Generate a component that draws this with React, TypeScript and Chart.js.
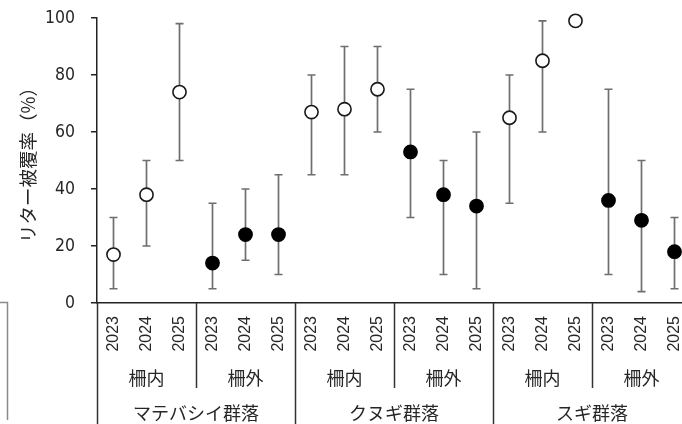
import React, { useEffect, useRef } from 'react';
import { Chart, registerables } from 'chart.js';

Chart.register(...registerables);

const years = ['2023', '2024', '2025'];
const fenceLabels = ['柵内', '柵外'];
const communityLabels = ['マテバシイ群落', 'クヌギ群落', 'スギ群落'];
const meanValues = [17, 38, 74, 14, 24, 24, 67, 68, 75, 53, 38, 34, 65, 85, 99, 36, 29, 18];
const upperValues: (number | null)[] = [30, 50, 98, 35, 40, 45, 80, 90, 90, 75, 50, 60, 80, 99, null, 75, 50, 30];
const lowerValues: (number | null)[] = [5, 20, 50, 5, 15, 10, 45, 45, 60, 30, 10, 5, 35, 60, null, 10, 4, 5];
const yTicks = [0, 20, 40, 60, 80, 100];
const yTitle = 'リター被覆率（%）';

const TEXT = '#262626';
const JP_FONT = "'Noto Sans CJK JP', sans-serif";

const labels = communityLabels.flatMap(() => fenceLabels.flatMap(() => years));
const fenceOf = (i: number) => Math.floor(i / years.length) % fenceLabels.length;
const insideData = meanValues.map((v, i) => (fenceOf(i) === 0 ? v : null));
const outsideData = meanValues.map((v, i) => (fenceOf(i) === 1 ? v : null));

const kerningPlugin = {
  id: 'noKerning',
  beforeDraw(chart: any) {
    try {
      chart.ctx.fontKerning = 'none';
    } catch (e) {
      /* ignore */
    }
  },
};

const errorBarPlugin = {
  id: 'errorBars',
  beforeDatasetsDraw(chart: any) {
    const { ctx, scales } = chart;
    const x = scales.x;
    const y = scales.y;
    ctx.save();
    ctx.strokeStyle = '#6e6e6e';
    ctx.lineWidth = 1.7;
    meanValues.forEach((_, i) => {
      const hi = upperValues[i];
      const lo = lowerValues[i];
      if (hi == null || lo == null) return;
      const px = x.getPixelForValue(i);
      const yh = y.getPixelForValue(hi);
      const yl = y.getPixelForValue(lo);
      ctx.beginPath();
      ctx.moveTo(px, yh);
      ctx.lineTo(px, yl);
      ctx.moveTo(px - 4, yh);
      ctx.lineTo(px + 4, yh);
      ctx.moveTo(px - 4, yl);
      ctx.lineTo(px + 4, yl);
      ctx.stroke();
    });
    ctx.restore();
  },
};

const groupLabelPlugin = {
  id: 'groupLabels',
  afterDraw(chart: any) {
    const { ctx, scales, chartArea, height } = chart;
    const x = scales.x;
    const half = (x.getPixelForValue(1) - x.getPixelForValue(0)) / 2;
    const edge = (i: number) => x.getPixelForValue(i) - half;
    const bottom = chartArea.bottom;
    const n = years.length;
    ctx.save();
    ctx.strokeStyle = '#333333';
    ctx.lineWidth = 1.5;
    for (let c = 0; c < communityLabels.length; c++) {
      const i = c * n * fenceLabels.length + n;
      const px = Math.round(edge(i)) + 0.5;
      ctx.beginPath();
      ctx.moveTo(px, bottom);
      ctx.lineTo(px, bottom + 85);
      ctx.stroke();
    }
    for (let c = 0; c <= communityLabels.length; c++) {
      const i = c * n * fenceLabels.length;
      const px = Math.round(edge(i)) + 0.5;
      ctx.beginPath();
      ctx.moveTo(px, bottom);
      ctx.lineTo(px, height);
      ctx.stroke();
    }
    ctx.fillStyle = TEXT;
    ctx.textAlign = 'center';
    ctx.textBaseline = 'middle';
    ctx.font = `18px ${JP_FONT}`;
    communityLabels.forEach((_, c) => {
      fenceLabels.forEach((f, k) => {
        const s = (c * fenceLabels.length + k) * n;
        const cx = (edge(s) + edge(s + n)) / 2;
        ctx.fillText(f, cx, bottom + 75);
      });
    });
    communityLabels.forEach((name, c) => {
      const s = c * fenceLabels.length * n;
      const cx = (edge(s) + edge(s + fenceLabels.length * n)) / 2;
      ctx.fillText(name, cx, bottom + 110);
    });
    // cropped frame fragment at the left edge
    ctx.strokeStyle = '#8a8a8a';
    ctx.lineWidth = 1.5;
    ctx.beginPath();
    ctx.moveTo(0, bottom - 0.5);
    ctx.lineTo(7.5, bottom - 0.5);
    ctx.lineTo(7.5, bottom + 117);
    ctx.stroke();
    ctx.restore();
  },
};

export default function App() {
  const canvasRef = useRef<HTMLCanvasElement | null>(null);

  useEffect(() => {
    if (!canvasRef.current) return;
    const chart = new Chart(canvasRef.current, {
      type: 'line',
      data: {
        labels,
        datasets: [
          {
            label: fenceLabels[0],
            data: insideData,
            showLine: false,
            clip: false,
            pointRadius: 6.6,
            pointBackgroundColor: '#ffffff',
            pointBorderColor: '#1a1a1a',
            pointBorderWidth: 1.6,
          },
          {
            label: fenceLabels[1],
            data: outsideData,
            showLine: false,
            clip: false,
            pointRadius: 6.6,
            pointBackgroundColor: '#000000',
            pointBorderColor: '#000000',
            pointBorderWidth: 1.6,
          },
        ],
      },
      options: {
        animation: false,
        responsive: true,
        maintainAspectRatio: false,
        layout: { padding: { top: 18, right: 9, left: 0, bottom: 0 } },
        plugins: {
          legend: { display: false },
          tooltip: { enabled: false },
        },
        scales: {
          x: {
            type: 'category',
            offset: true,
            grid: { display: false, drawTicks: false },
            border: { display: true, color: '#222222', width: 1.5 },
            ticks: {
              autoSkip: false,
              minRotation: 90,
              maxRotation: 90,
              padding: 13,
              color: TEXT,
              font: { family: "'Liberation Sans', Arial, sans-serif", size: 16 },
            },
            afterFit: (scale: any) => {
              scale.height = 121;
              scale.paddingLeft = 0;
              scale.paddingRight = 0;
            },
          },
          y: {
            min: 0,
            max: 100,
            afterBuildTicks: (scale: any) => {
              scale.ticks = yTicks.map((v) => ({ value: v }));
            },
            grid: {
              display: true,
              drawOnChartArea: false,
              drawTicks: true,
              tickLength: 6,
              color: '#222222',
              lineWidth: 1.5,
            },
            border: { display: true, color: '#222222', width: 1.5 },
            ticks: {
              padding: 16,
              color: TEXT,
              font: {
                family: "'Liberation Sans Narrow', 'DejaVu Sans Condensed', 'Liberation Sans', sans-serif",
                size: 17.5,
              },
            },
            title: {
              display: true,
              text: yTitle,
              color: TEXT,
              padding: { top: 17, bottom: 0 },
              font: { family: JP_FONT, size: 18.5 },
            },
            afterFit: (scale: any) => {
              scale.width = 97;
              scale.paddingTop = 0;
              scale.paddingBottom = 0;
            },
          },
        },
      },
      plugins: [kerningPlugin, errorBarPlugin, groupLabelPlugin],
    });
    return () => chart.destroy();
  }, []);

  return (
    <div
      style={{
        position: 'fixed',
        left: 0,
        top: 0,
        width: 682,
        height: 424,
        overflow: 'hidden',
        background: '#ffffff',
      }}
    >
      <div style={{ position: 'relative', width: 700, height: 424 }}>
        <canvas ref={canvasRef} />
      </div>
    </div>
  );
}
